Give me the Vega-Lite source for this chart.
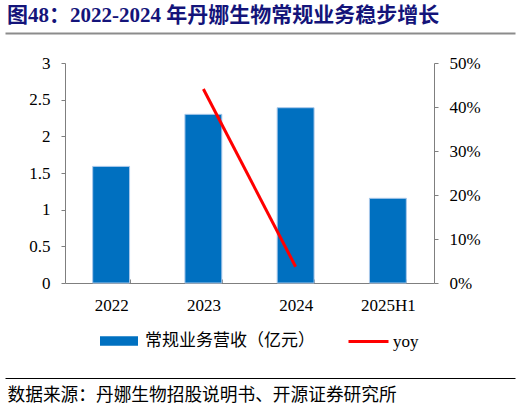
{
  "$schema": "https://vega.github.io/schema/vega-lite/v6.json",
  "width": 369,
  "height": 220,
  "autosize": "none",
  "padding": {"left": 65, "top": 63, "right": 86, "bottom": 125},
  "background": "white",
  "config": {
    "view": {"stroke": null},
    "axis": {
      "labelFont": "Liberation Serif, Noto Sans CJK SC",
      "labelFontSize": 17,
      "labelColor": "#000000",
      "domainColor": "#7f7f7f",
      "tickColor": "#7f7f7f",
      "grid": false,
      "title": null
    }
  },
  "title": {
    "text": "图48：2022-2024 年丹娜生物常规业务稳步增长",
    "font": "Liberation Serif, Noto Sans CJK SC",
    "fontSize": 21,
    "fontWeight": "bold",
    "color": "#14147A",
    "anchor": "start",
    "frame": "group",
    "baseline": "alphabetic",
    "dx": -58,
    "dy": 19,
    "offset": 9
  },
  "data": {
    "values": [
      {"period": "2022", "revenue": 1.59, "yoy": null},
      {"period": "2023", "revenue": 2.3, "yoy": 0.441},
      {"period": "2024", "revenue": 2.39, "yoy": 0.037},
      {"period": "2025H1", "revenue": 1.155, "yoy": null}
    ]
  },
  "layer": [
    {
      "layer": [
        {
          "mark": {"type": "bar", "stroke": "#a9c8ea", "strokeWidth": 1},
          "encoding": {
            "x": {
              "field": "period", "type": "nominal", "sort": null,
              "scale": {"paddingInner": 0.6, "paddingOuter": 0.3},
              "axis": {
                "labelAngle": 0,
                "tickBand": "extent",
                "tickSize": -4,
                "labelPadding": 18
              }
            },
            "y": {
              "field": "revenue", "type": "quantitative",
              "scale": {"domain": [0, 3]},
              "axis": {
                "orient": "left",
                "values": [0, 0.5, 1, 1.5, 2, 2.5, 3],
                "format": "~g",
                "tickSize": 4,
                "labelPadding": 11
              }
            },
            "color": {
              "datum": "常规业务营收（亿元）",
              "scale": {"range": ["#0070C0"]},
              "legend": {
                "orient": "none",
                "legendX": 35,
                "legendY": 259,
                "padding": 0,
                "title": null,
                "symbolType": "M-1,-0.25H1V0.25H-1Z",
                "symbolSize": 1444,
                "symbolStrokeWidth": 0,
                "labelFont": "Liberation Serif, Noto Sans CJK SC",
                "labelFontSize": 17,
                "labelColor": "#000000",
                "labelOffset": 7,
                "labelLimit": 300
              }
            }
          }
        },
        {
          "mark": {"type": "line", "strokeWidth": 3, "strokeCap": "butt"},
          "encoding": {
            "x": {"field": "period", "type": "nominal", "sort": null},
            "y": {
              "field": "yoy", "type": "quantitative",
              "scale": {"domain": [0, 0.5]},
              "axis": {
                "orient": "right",
                "values": [0, 0.1, 0.2, 0.3, 0.4, 0.5],
                "format": ".0%",
                "tickSize": 4,
                "labelPadding": 11
              }
            },
            "stroke": {
              "datum": "yoy",
              "scale": {"range": ["#FF0000"]},
              "legend": {
                "orient": "none",
                "legendX": 282,
                "legendY": 257,
                "padding": 0,
                "title": null,
                "symbolType": "stroke",
                "symbolSize": 1600,
                "symbolStrokeWidth": 3,
                "labelFont": "Liberation Serif, Noto Sans CJK SC",
                "labelFontSize": 17,
                "labelColor": "#000000",
                "labelOffset": 3,
                "labelLimit": 200
              }
            }
          }
        }
      ],
      "resolve": {"scale": {"y": "independent"}}
    },
    {
      "mark": {"type": "rule", "opacity": 0},
      "encoding": {
        "x": {
          "field": "revenue", "type": "quantitative",
          "scale": {"domain": [0, 1], "range": [-60, 450]},
          "axis": {
            "orient": "top",
            "offset": 30,
            "labels": false,
            "ticks": false,
            "domainColor": "#8c8c8c",
            "domainWidth": 2
          }
        }
      }
    },
    {
      "mark": {"type": "rule", "opacity": 0},
      "encoding": {
        "x": {
          "field": "revenue", "type": "quantitative",
          "scale": {"domain": [0, 1], "range": [-60, 450]},
          "axis": {
            "orient": "bottom",
            "offset": 95,
            "labels": false,
            "ticks": false,
            "domainColor": "#000000",
            "domainWidth": 1,
            "title": "数据来源：丹娜生物招股说明书、开源证券研究所",
            "titleFont": "Liberation Serif, Noto Sans CJK SC",
            "titleFontSize": 17.7,
            "titleFontWeight": "normal",
            "titleColor": "#000000",
            "titleAnchor": "start",
            "titleAlign": "left",
            "titleBaseline": "alphabetic",
            "titleX": -58,
            "titleY": 22
          }
        }
      }
    }
  ],
  "resolve": {"scale": {"x": "independent", "y": "independent"}}
}
